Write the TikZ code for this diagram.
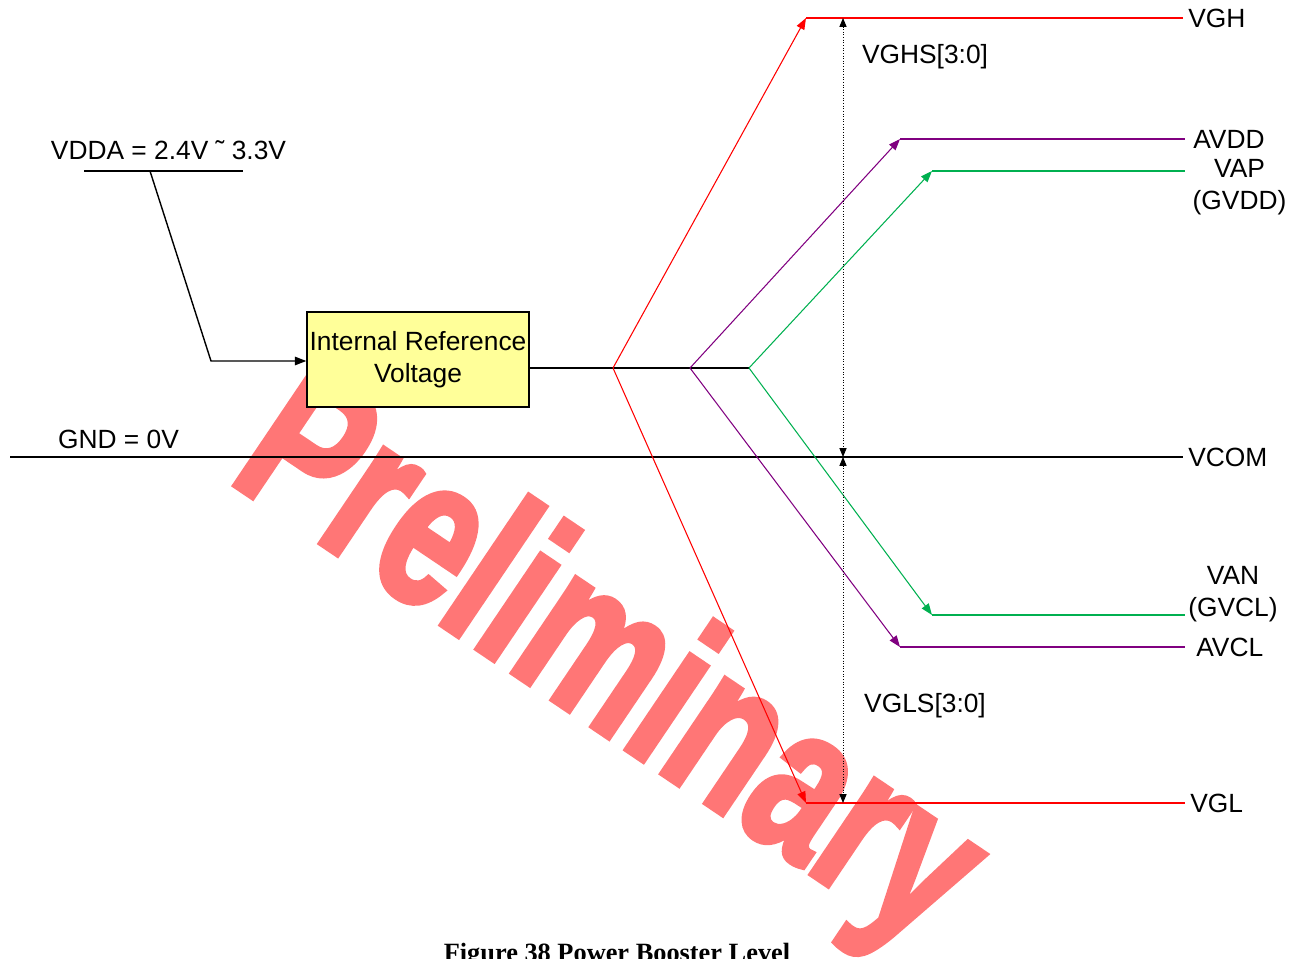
\documentclass[tikz,border=0pt]{standalone}
\usepackage{fontspec}
\setmainfont{Liberation Sans}
\newfontfamily\capfont{Liberation Serif}
\newfontfamily\wmfont[BoldFeatures={FakeBold=3}]{Liberation Sans}
\usetikzlibrary{positioning,arrows.meta}
\definecolor{boxyellow}{RGB}{255,255,153}
\definecolor{vpurple}{RGB}{128,0,128}
\definecolor{vgreen}{RGB}{0,176,80}
\definecolor{wmred}{RGB}{255,118,118}

\begin{document}
\begin{tikzpicture}[
    x=0.02cm, y=-0.02cm,
    font=\fontsize{15}{18}\selectfont,
    box/.style={draw, line width=0.8pt, fill=boxyellow, align=center, inner sep=0pt, minimum width=4.44cm, minimum height=1.9cm},
    lbl/.style={inner sep=0pt},
    wire/.style={line width=0.8pt},
    rise/.style={line width=0.6pt, -{Triangle[length=6.5pt,width=4.8pt]}},
    level/.style={line width=1.2pt},
    dim/.style={line width=0.5pt, densely dotted, {Triangle[length=5pt,width=4pt]}-{Triangle[length=5pt,width=4pt]}}
  ]
    \useasboundingbox (0,0) rectangle (1305,959);
    \node[anchor=base west, inner sep=0pt, rotate=-34, xscale=0.72, transform shape, text=wmred, font=\wmfont\fontsize{122}{130}\selectfont\bfseries] (wm) at (226,479) {Preliminary};

    \node[box] (irv) at (418,359.5) {Internal Reference\\Voltage};
    \node (vdda) at (168.5,150) {VDDA = 2.4V {\char"02DC} 3.3V};
    \coordinate (ul1) at (84,171);
    \coordinate (ul2) at (243,171);
    \coordinate (ulm) at (150,171);
    \coordinate (bend) at (211,361);
    \draw[wire] (ul1) -- (ul2);
    \draw[wire, -{Triangle[length=6.5pt,width=4.8pt]}] (ulm) -- (bend) -- (bend -| irv.west);

    \node (gnd) at (118.5,439) {GND = 0V};
    \coordinate (gl) at (10,457);
    \coordinate (ecom) at (1183,457);
    \node[lbl, right=0.1cm of ecom] (vcom) {VCOM};
    \draw[wire] (gl) -- (ecom);

    \coordinate (sr) at (613,368);
    \coordinate (sp) at (690,368);
    \coordinate (sg) at (749,368);
    \draw[wire] (irv.east |- sg) -- (sg);

    \coordinate (kvgh) at (806,18);
    \coordinate (kvgl) at (806,803);
    \coordinate (kavdd) at (900,139);
    \coordinate (kavcl) at (900,647);
    \coordinate (kvap) at (932,171);
    \coordinate (kvan) at (932,615);
    \coordinate (evgh) at (1183,18);
    \coordinate (evgl) at (1185,803);
    \coordinate (eavdd) at (1185,139);
    \coordinate (eavcl) at (1185,647);
    \coordinate (evap) at (1185,171);
    \coordinate (evan) at (1185,615);

    \node[lbl, right=0.1cm of evgh] (vgh) {VGH};
    \node[lbl, right=0.1cm of evgl] (vgl) {VGL};
    \node[lbl, right=0.16cm of eavdd] (avdd) {AVDD};
    \node[lbl, right=0.22cm of eavcl] (avcl) {AVCL};
    \node[lbl, align=center] (vap) at (1239.5,187) {VAP\\(GVDD)};
    \node[lbl, align=center] (van) at (1233,594) {VAN\\(GVCL)};

    \draw[rise, red] (sr) -- (kvgh);
    \draw[rise, red] (sr) -- (kvgl);
    \draw[rise, vpurple] (sp) -- (kavdd);
    \draw[rise, vpurple] (sp) -- (kavcl);
    \draw[rise, vgreen] (sg) -- (kvap);
    \draw[rise, vgreen] (sg) -- (kvan);
    \draw[level, red] (kvgh) -- (evgh);
    \draw[level, red] (kvgl) -- (evgl);
    \draw[level, vpurple] (kavdd) -- (eavdd);
    \draw[level, vpurple] (kavcl) -- (eavcl);
    \draw[level, vgreen] (kvap) -- (evap);
    \draw[level, vgreen] (kvan) -- (evan);

    \coordinate (dm) at (843,457);
    \draw[dim] (dm |- evgh) -- (dm);
    \draw[dim] (dm) -- (dm |- evgl);
    \node (vghs) at (925,57) {VGHS[3:0]};
    \node (vgls) at (925,706) {VGLS[3:0]};

    \node[anchor=base, font=\capfont\bfseries\fontsize{15}{18}\selectfont] (cap) at (617,961) {Figure 38 Power Booster Level};
  \end{tikzpicture}
\end{document}
